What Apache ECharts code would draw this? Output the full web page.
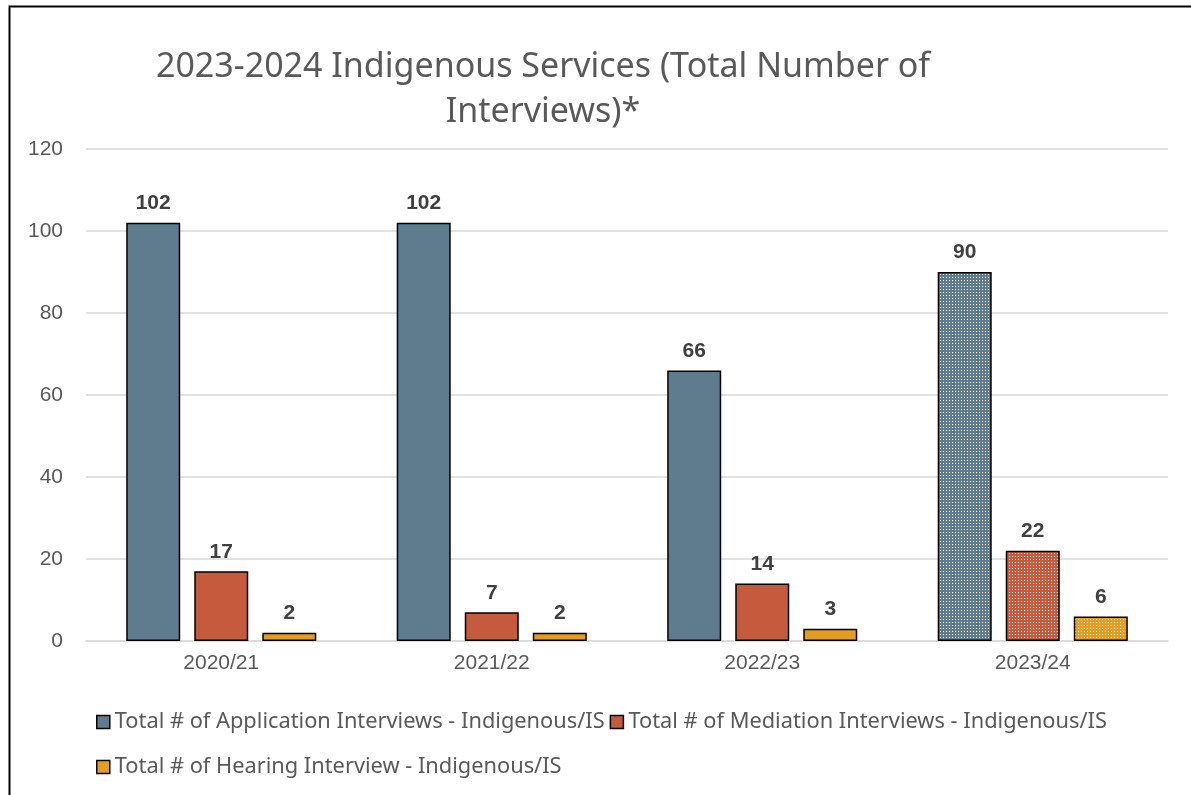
<!DOCTYPE html>
<html>
<head>
<meta charset="utf-8">
<script src="https://cdn.jsdelivr.net/npm/echarts@6/dist/echarts.min.js"></script>
<style>
  html, body { margin: 0; padding: 0; background: #fff; }
  #chart { width: 1191px; height: 795px; }
</style>
</head>
<body>
<div id="chart"></div>
<script>
// Fiscal years and interview totals per service type
const categories = ['2020/21', '2021/22', '2022/23', '2023/24'];
const applicationInterviews = [102, 102, 66, 90];
const mediationInterviews = [17, 7, 14, 22];
const hearingInterviews = [2, 2, 3, 6];
const seriesNames = [
  'Total # of Application Interviews - Indigenous/IS',
  'Total # of Mediation Interviews - Indigenous/IS',
  'Total # of Hearing Interview - Indigenous/IS'
];
const yTicks = { min: 0, max: 120, interval: 20 };

const colors = ['#5E7C8E', '#C65A3C', '#E49C23'];
const TEXT_FONT = 'Noto Sans';
const AXIS_FONT = 'Liberation Sans';

// Dotted fill used for the latest year
function dotted(base) {
  const c = document.createElement('canvas');
  c.width = 3; c.height = 3;
  const ctx = c.getContext('2d');
  ctx.fillStyle = base;
  ctx.fillRect(0, 0, 3, 3);
  ctx.fillStyle = '#ffffff';
  ctx.fillRect(1, 1, 1, 1);
  return { image: c, repeat: 'repeat' };
}

function buildData(values, colorIdx) {
  return values.map((v, i) => {
    if (i === categories.length - 1) {
      return { value: v, itemStyle: { color: dotted(colors[colorIdx]) } };
    }
    return v;
  });
}

const allValues = [applicationInterviews, mediationInterviews, hearingInterviews];

const legendText = { fontFamily: TEXT_FONT, fontSize: 21.8, color: '#595959' };

const chart = echarts.init(document.getElementById('chart'), null, { renderer: 'canvas' });

chart.setOption({
  animation: false,
  backgroundColor: '#ffffff',
  title: {
    text: '2023-2024 Indigenous Services (Total Number of\nInterviews)*',
    left: 538,
    textAlign: 'center',
    top: 40,
    textStyle: {
      fontFamily: TEXT_FONT,
      fontSize: 34,
      fontWeight: 'normal',
      color: '#595959',
      lineHeight: 45
    }
  },
  graphic: [{
    type: 'rect',
    left: 7,
    top: 4,
    shape: { width: 1400, height: 1000 },
    style: { fill: 'none', stroke: '#000', lineWidth: 2 },
    silent: true
  }],
  legend: [{
    data: seriesNames.slice(0, 2),
    left: 91,
    top: 706,
    itemWidth: 13,
    itemHeight: 13,
    itemGap: 5,
    icon: 'rect',
    textStyle: legendText,
    itemStyle: { borderColor: '#000', borderWidth: 1.5 }
  }, {
    data: seriesNames.slice(2),
    left: 91,
    top: 751,
    itemWidth: 13,
    itemHeight: 13,
    icon: 'rect',
    textStyle: legendText,
    itemStyle: { borderColor: '#000', borderWidth: 1.5 }
  }],
  grid: {
    left: 86,
    right: 23,
    top: 149,
    bottom: 154,
    containLabel: false
  },
  xAxis: {
    type: 'category',
    data: categories,
    axisTick: { show: false },
    axisLine: { lineStyle: { color: '#D9D9D9', width: 1.5 } },
    axisLabel: { fontFamily: AXIS_FONT, fontSize: 21, color: '#595959', margin: 12 }
  },
  yAxis: {
    type: 'value',
    min: yTicks.min,
    max: yTicks.max,
    interval: yTicks.interval,
    axisLine: { show: false },
    axisTick: { show: false },
    splitLine: { lineStyle: { color: '#D9D9D9', width: 1.5 } },
    axisLabel: { fontFamily: AXIS_FONT, fontSize: 21, color: '#595959', margin: 23 }
  },
  series: seriesNames.map((name, idx) => ({
    name,
    type: 'bar',
    data: buildData(allValues[idx], idx),
    barWidth: 54,
    barGap: '26%',
    itemStyle: { color: colors[idx], borderColor: '#000', borderWidth: 1.5 },
    label: {
      show: true,
      position: 'top',
      distance: 9,
      fontFamily: AXIS_FONT,
      fontSize: 21,
      fontWeight: 'bold',
      color: '#404040'
    }
  }))
});
</script>
</body>
</html>
